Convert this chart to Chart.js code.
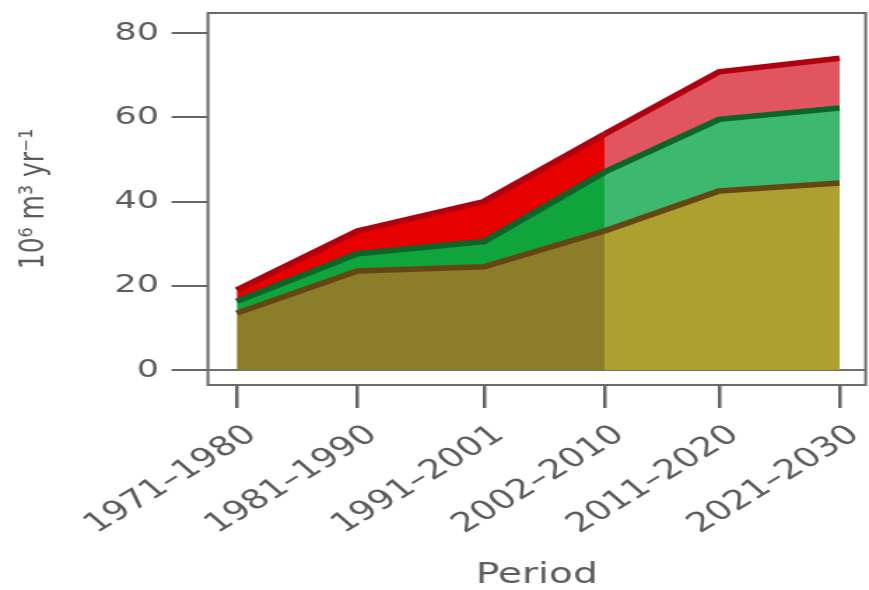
<!DOCTYPE html>
<html>
<head>
<meta charset="utf-8">
<script src="https://cdn.jsdelivr.net/npm/chart.js@4.4.1/dist/chart.umd.min.js"></script>
<style>
  html, body { margin: 0; padding: 0; background: #fff; }
  /* the original figure is stretched sideways, so the canvas is drawn narrow and widened by css */
  #chart { display: block; width: 869px !important; height: 590px !important; }
</style>
</head>
<body>
<canvas id="chart" width="621" height="590" style="width:869px;height:590px"></canvas>
<script>
// periods and the mid-year each one is plotted at
const periods = ['1971–1980', '1981–1990', '1991–2001', '2002–2010', '2011–2020', '2021–2030'];
const midYears = [1975.5, 1985.5, 1996, 2006, 2015.5, 2025.5];
const yTicks = [0, 20, 40, 60, 80];

// stacked layers, 10^6 m3 per year
const lowerLayer  = [13.5, 23.5, 24.5, 33.0, 42.5, 44.4];
const middleLayer = [2.8, 4.1, 6.0, 14.0, 17.0, 17.8];
const upperLayer  = [2.7, 5.4, 9.5, 9.0, 11.3, 11.8];

const firstProjected = 3; // shading gets lighter from 2002–2010 on

const FONT = '"DejaVu Sans", sans-serif';
const TEXT = '#5c5c5c';
const AXIS = '#666';

function layer(values, line, observed, projected, fill) {
  return {
    data: values.map((v, i) => ({ x: midYears[i], y: v })),
    borderColor: line,
    borderWidth: 5.5,
    borderCapStyle: 'butt',
    pointRadius: 0,
    tension: 0,
    fill: fill,
    backgroundColor: observed,
    segment: {
      backgroundColor: ctx => ctx.p0DataIndex >= firstProjected ? projected : observed
    }
  };
}

// box round the plot area
const framePlugin = {
  id: 'frame',
  afterDatasetsDraw(chart) {
    const a = chart.chartArea, ctx = chart.ctx;
    ctx.save();
    ctx.strokeStyle = '#6a6a6a';
    ctx.lineWidth = 2;
    ctx.strokeRect(a.left, a.top, a.right - a.left, a.bottom - a.top);
    ctx.restore();
  }
};

new Chart(document.getElementById('chart'), {
  type: 'line',
  data: {
    datasets: [
      layer(lowerLayer, '#654612', '#8b7d29', '#ada02e', 'origin'),
      layer(middleLayer, '#0b6428', '#10a53c', '#3cb96e', '-1'),
      layer(upperLayer, '#b0000f', '#e60000', '#e0555f', '-1')
    ]
  },
  options: {
    responsive: false,
    animation: false,
    layout: { padding: { left: 8, top: 13, right: 2.4, bottom: 0 } },
    plugins: { legend: { display: false }, tooltip: { enabled: false } },
    scales: {
      x: {
        type: 'linear',
        min: 1973.11,
        max: 2027.66,
        afterBuildTicks: s => { s.ticks = midYears.map(v => ({ value: v })); },
        afterFit: s => { s.height = 205; s.paddingLeft = 0; s.paddingRight = 0; },
        ticks: {
          callback: (v, i) => periods[i],
          autoSkip: false,
          minRotation: 40,
          maxRotation: 40,
          padding: 11,
          labelOffset: 11,
          color: TEXT,
          font: { family: FONT, size: 27 }
        },
        grid: { drawOnChartArea: false, drawTicks: true, tickLength: 23, tickColor: AXIS, lineWidth: 2.5 },
        border: { display: false },
        title: {
          display: true,
          text: 'Period',
          color: TEXT,
          padding: { top: 0, bottom: 0 },
          font: { family: FONT, size: 28, lineHeight: 1 }
        }
      },
      y: {
        type: 'linear',
        stacked: true,
        min: -3.56,
        max: 84.75,
        z: 1,
        afterBuildTicks: s => { s.ticks = yTicks.map(v => ({ value: v })); },
        afterFit: s => { s.width = 140.6; s.paddingTop = 0; s.paddingBottom = 0; },
        ticks: { padding: 9, color: TEXT, font: { family: FONT, size: 25 } },
        grid: {
          color: ctx => (ctx.tick && ctx.tick.value === 0) ? '#707070' : 'rgba(0,0,0,0)',
          tickColor: AXIS,
          lineWidth: 2,
          tickLength: 26,
          drawTicks: true
        },
        border: { display: false },
        title: {
          display: true,
          text: '10⁶ m³ yr⁻¹',
          color: TEXT,
          padding: { top: 4, bottom: 0 },
          font: { family: FONT, size: 25, lineHeight: 1 }
        }
      }
    }
  },
  plugins: [framePlugin]
});
</script>
</body>
</html>
